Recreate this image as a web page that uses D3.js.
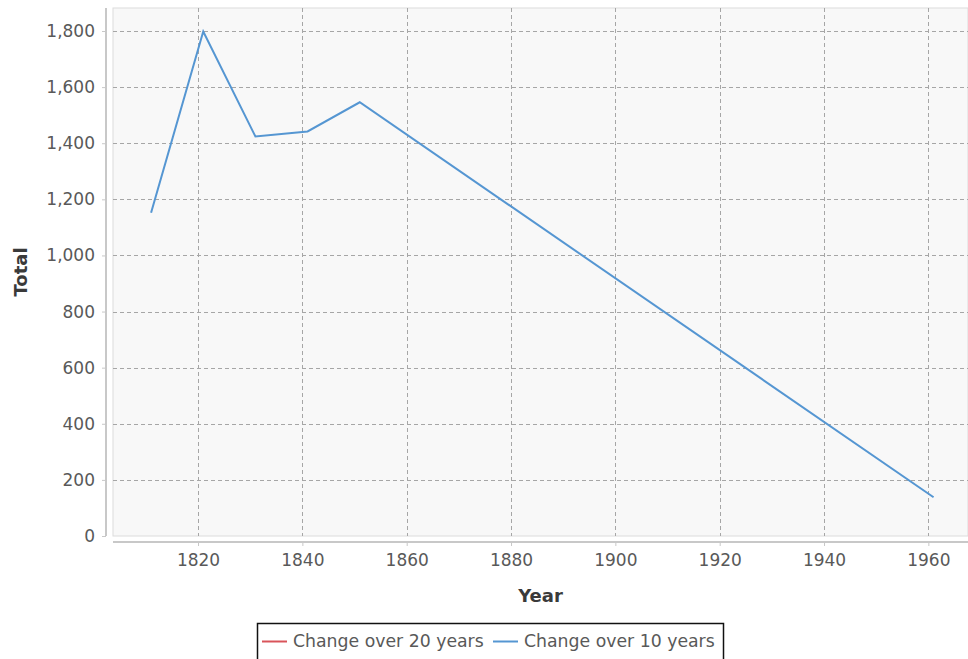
<!DOCTYPE html>
<html>
<head>
<meta charset="utf-8">
<script src="https://cdn.jsdelivr.net/npm/d3@7"></script>
<style>
  body { margin: 0; background: #fff; }
  svg { display: block; font-family: "DejaVu Sans", sans-serif; }
</style>
</head>
<body>
<svg id="chart" width="968" height="659"></svg>
<script>
var years = [1811, 1821, 1831, 1841, 1851, 1961]
var tenYear = [1152, 1798, 1424, 1442, 1546, 138]
var twentyYear = []
var xTicks = [1820, 1840, 1860, 1880, 1900, 1920, 1940, 1960]
var yTicks = [0, 200, 400, 600, 800, 1000, 1200, 1400, 1600, 1800]
var seriesNames = ['Change over 20 years', 'Change over 10 years']
var seriesColors = ['#d9545a', '#5596d2']

var svg = d3.select('#chart')
var plotLeft = 113, plotRight = 968, plotTop = 8, plotBottom = 536

var x = d3.scaleLinear().domain([1803.7, 1967.6]).range([plotLeft, plotRight])
var y = d3.scaleLinear().domain([0, 1882]).range([plotBottom, plotTop])

// plot background
svg.append('rect')
  .attr('x', plotLeft).attr('y', plotTop)
  .attr('width', plotRight - plotLeft).attr('height', plotBottom - plotTop)
  .attr('fill', '#f8f8f8')
  .attr('stroke', '#dcdcdc')

// grid
svg.append('g').selectAll('line').data(yTicks.slice(1))
  .enter().append('line')
    .attr('x1', plotLeft).attr('x2', plotRight)
    .attr('y1', function (d) { return Math.round(y(d)) + 0.5 })
    .attr('y2', function (d) { return Math.round(y(d)) + 0.5 })
    .attr('stroke', '#a6a6a6')
    .attr('stroke-dasharray', '4,3')

svg.append('g').selectAll('line').data(xTicks)
  .enter().append('line')
    .attr('x1', function (d) { return Math.round(x(d)) + 0.5 })
    .attr('x2', function (d) { return Math.round(x(d)) + 0.5 })
    .attr('y1', plotTop).attr('y2', plotBottom)
    .attr('stroke', '#a6a6a6')
    .attr('stroke-dasharray', '4,3')

// axes
var yAxis = svg.append('g')
  .attr('transform', 'translate(106,0)')
  .call(d3.axisLeft(y).tickValues(yTicks).tickSize(4).tickPadding(7)
    .tickFormat(d3.format(',')))
yAxis.select('.domain').attr('stroke', '#c8c8c8').attr('stroke-width', 2)
  .attr('d', 'M0,' + plotTop + 'V' + plotBottom)

var xAxis = svg.append('g')
  .attr('transform', 'translate(0,542)')
  .call(d3.axisBottom(x).tickValues(xTicks).tickSize(4).tickPadding(8)
    .tickFormat(d3.format('d')))
xAxis.select('.domain').attr('stroke', '#c8c8c8').attr('stroke-width', 2)
  .attr('d', 'M' + plotLeft + ',0H' + plotRight)

svg.selectAll('.tick line').attr('stroke', '#c8c8c8')
svg.selectAll('.tick text')
  .attr('fill', '#595959')
  .style('font-size', '17px')
  .style('font-family', '"DejaVu Sans", sans-serif')

// axis titles
svg.append('text')
  .attr('x', (plotLeft + plotRight) / 2).attr('y', 602)
  .attr('text-anchor', 'middle')
  .attr('font-weight', 'bold').attr('font-size', 18)
  .attr('fill', '#3a3a3a')
  .text('Year')

svg.append('text')
  .attr('transform', 'translate(27,272) rotate(-90)')
  .attr('text-anchor', 'middle')
  .attr('font-weight', 'bold').attr('font-size', 18)
  .attr('fill', '#3a3a3a')
  .text('Total')

// lines
var line = d3.line()
  .x(function (d) { return x(d[0]) })
  .y(function (d) { return y(d[1]) })

svg.append('path')
  .datum(d3.zip(years.slice(0, twentyYear.length), twentyYear))
  .attr('d', line)
  .attr('fill', 'none')
  .attr('stroke', seriesColors[0])
  .attr('stroke-width', 2)

svg.append('path')
  .datum(d3.zip(years, tenYear))
  .attr('d', line)
  .attr('fill', 'none')
  .attr('stroke', seriesColors[1])
  .attr('stroke-width', 2)

// legend
svg.append('rect')
  .attr('x', 257.5).attr('y', 623.5)
  .attr('width', 466).attr('height', 45)
  .attr('fill', '#fff')
  .attr('stroke', '#111')
  .attr('stroke-width', 1.5)

var lx = [262, 493]
seriesNames.forEach(function (name, i) {
  svg.append('line')
    .attr('x1', lx[i]).attr('x2', lx[i] + 25)
    .attr('y1', 641.5).attr('y2', 641.5)
    .attr('stroke', seriesColors[i]).attr('stroke-width', 2)
  svg.append('text')
    .attr('x', lx[i] + 31).attr('y', 647)
    .attr('font-size', 17.3)
    .attr('fill', '#595959')
    .text(name)
})
</script>
</body>
</html>
